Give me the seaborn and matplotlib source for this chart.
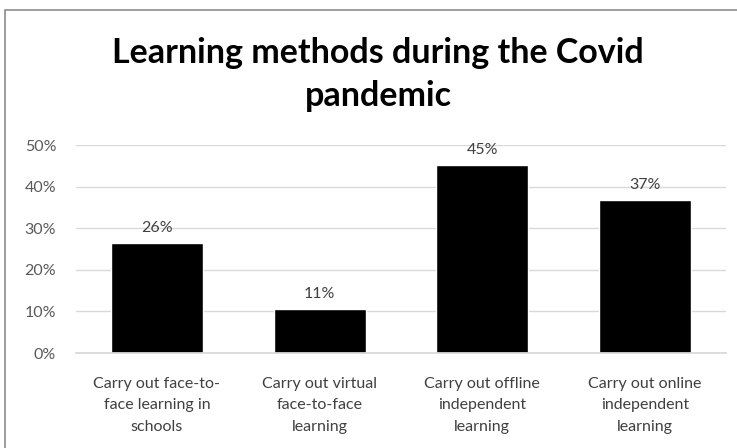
import numpy as np
import pandas as pd
import matplotlib.pyplot as plt
import seaborn as sns
from matplotlib.patches import Rectangle

# values
methods = ["Carry out face-to-\nface learning in\nschools",
           "Carry out virtual\nface-to-face\nlearning",
           "Carry out offline\nindependent\nlearning",
           "Carry out online\nindependent\nlearning"]
shares = [0.264, 0.106, 0.452, 0.368]
labels = ["26%", "11%", "45%", "37%"]
yticks = [0, 0.1, 0.2, 0.3, 0.4, 0.5]

df = pd.DataFrame({"method": methods, "share": shares})

sns.set_theme(style="white")
plt.rcParams['font.family'] = ['Lato', 'DejaVu Sans']

fig = plt.figure(figsize=(7.37, 4.48), dpi=100)
ax = fig.add_axes([0.1026, 0.212, 0.883, 0.464])

sns.barplot(data=df, x="method", y="share", color="black", width=0.565,
            saturation=1, ax=ax)

ax.set_ylim(0, 0.5)
ax.set_yticks(yticks)
ax.set_yticklabels([f"{t:.0%}" for t in yticks], color="#595959", fontsize=11.5)
ax.yaxis.grid(True, color="#d9d9d9", linewidth=1)
ax.set_axisbelow(True)
ax.tick_params(axis="x", labelsize=11.5, colors="#404040", pad=17, length=0)
ax.tick_params(axis="y", length=0, pad=14)
for lbl in ax.get_xticklabels():
    lbl.set_linespacing(1.7)
ax.set_xlabel("")
ax.set_ylabel("")
sns.despine(ax=ax, left=True, top=True, right=True, bottom=False)
ax.spines["bottom"].set_color("#d9d9d9")

# data labels
for i, (v, t) in enumerate(zip(shares, labels)):
    ax.annotate(t, (i, v), xytext=(0, 6), textcoords="offset points",
                ha="center", va="bottom", fontsize=11.5, color="#404040")

fig.suptitle("Learning methods during the Covid\npandemic", x=0.513, y=0.834,
             va="center", fontsize=24.5, fontweight="bold", linespacing=1.42,
             color="black")

# chart border
fig.patches.append(Rectangle((5 / 737, -0.01), 1.0, 1.0 - 10 / 448 + 0.01,
                             transform=fig.transFigure, fill=False,
                             edgecolor="#8c8c8c", linewidth=1.2))

fig.savefig("out.png", dpi=100)
